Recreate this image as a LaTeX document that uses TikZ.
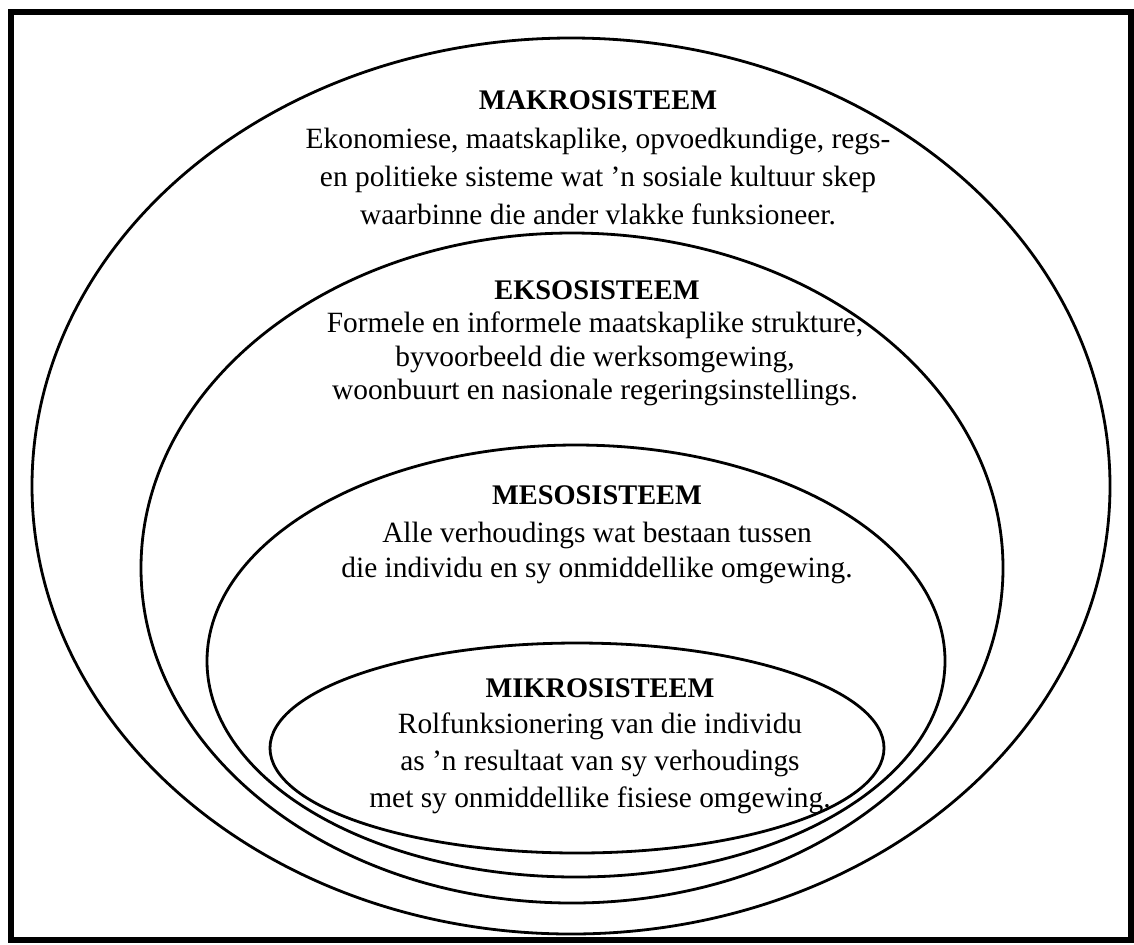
\documentclass[tikz,border=0pt]{standalone}
\usepackage{fontspec}
\setmainfont{Liberation Serif}
\begin{document}
\begin{tikzpicture}[x=0.5pt,y=-0.5pt,
  ring/.style={line width=1.4pt},
  frame/.style={line width=2.6pt},
  ttl/.style={font=\fontsize{14.2}{17}\selectfont\bfseries, inner sep=0pt},
  body/.style={align=center, inner sep=0pt, font=\fontsize{14.7}{#1}\selectfont}]
\useasboundingbox (0,0) rectangle (1134,944);
\fill[white] (0,0) rectangle (1134,944);
\draw[frame] (11,12) rectangle (1131,940);
% ellipses
\draw[ring] (571,486) ellipse [x radius=269.5pt, y radius=224pt];
\draw[ring] (572,568) ellipse [x radius=215.5pt, y radius=167.5pt];
\draw[ring] (576,661) ellipse [x radius=184.5pt, y radius=108pt];
\draw[ring] (577,748) ellipse [x radius=153.5pt, y radius=52.5pt];
% Makro
\node[ttl] (makroT) at (598,100) {MAKROSISTEEM};
\node[body=19pt] (makroB) at (598,176) {Ekonomiese, maatskaplike, opvoedkundige, regs-\\en politieke sisteme wat 'n sosiale kultuur skep\\waarbinne die ander vlakke funksioneer.};
% Ekso
\node[ttl] (eksoT) at (597,290) {EKSOSISTEEM};
\node[body=16.9pt] (eksoB) at (595,359) {Formele en informele maatskaplike strukture,\\byvoorbeeld die werksomgewing,\\woonbuurt en nasionale regeringsinstellings.};
% Meso
\node[ttl] (mesoT) at (597,495) {MESOSISTEEM};
\node[body=17.5pt] (mesoB) at (597,553) {Alle verhoudings wat bestaan tussen\\die individu en sy onmiddellike omgewing.};
% Mikro
\node[ttl] (mikroT) at (600,688) {MIKROSISTEEM};
\node[body=18.5pt] (mikroB) at (600,763) {Rolfunksionering van die individu\\as 'n resultaat van sy verhoudings\\met sy onmiddellike fisiese omgewing.};
\end{tikzpicture}
\end{document}
